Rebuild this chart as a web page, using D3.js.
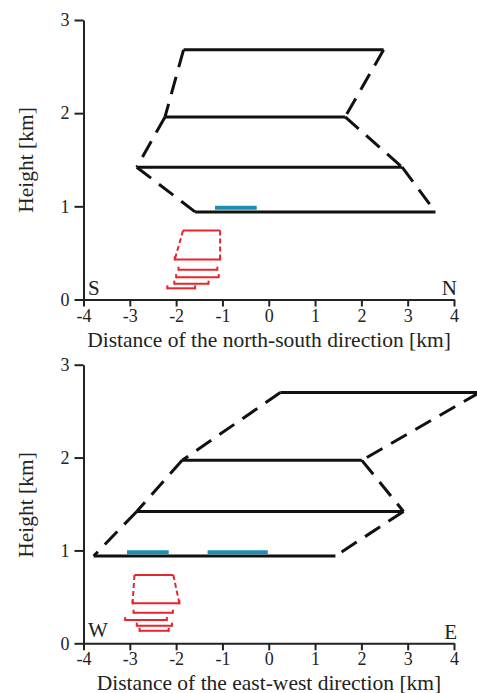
<!DOCTYPE html>
<html>
<head>
<meta charset="utf-8">
<script src="https://cdn.jsdelivr.net/npm/d3@7"></script>
<style>
  html, body { margin: 0; padding: 0; background: #fff; }
  svg { display: block; }
  text { font-family: "Liberation Serif", "Times New Roman", serif; fill: #222; }
</style>
</head>
<body>
<svg id="chart" width="477" height="693"></svg>
<script>
// ---------- Data ----------
const xTicks = [-4, -3, -2, -1, 0, 1, 2, 3, 4];
const yTicks = [0, 1, 2, 3];

// North-south panel: black outline levels
const nsHeights = [2.68, 1.96, 1.42, 0.94];
const nsLeft    = [-1.84, -2.24, -2.85, -1.59];
const nsRight   = [2.48, 1.65, 2.88, 3.60];
// cyan segments
const nsCyanHeight = [0.985];
const nsCyanStart  = [-1.16];
const nsCyanEnd    = [-0.26];
// red levels
const nsRedHeights = [0.74, 0.43, 0.32, 0.24, 0.17, 0.12];
const nsRedLeft    = [-1.85, -2.03, -1.95, -2.00, -2.04, -2.19];
const nsRedRight   = [-1.05, -1.05, -1.11, -1.08, -1.30, -1.59];

// East-west panel
const ewHeights = [2.70, 1.97, 1.42, 0.94];
const ewLeft    = [0.25, -1.87, -2.85, -3.78];
const ewRight   = [4.55, 2.01, 2.91, 1.44];
const ewCyanHeight = [0.98, 0.98];
const ewCyanStart  = [-3.06, -1.32];
const ewCyanEnd    = [-2.16, -0.02];
const ewRedHeights = [0.735, 0.43, 0.33, 0.25, 0.19, 0.135];
const ewRedLeft    = [-2.90, -2.94, -2.92, -3.10, -2.85, -2.79];
const ewRedRight   = [-2.06, -1.93, -2.07, -2.20, -2.09, -2.16];

const panels = [
  { top: 20, bottom: 299.5, heights: nsHeights, left: nsLeft, right: nsRight,
    cyanH: nsCyanHeight, cyanS: nsCyanStart, cyanE: nsCyanEnd,
    redH: nsRedHeights, redL: nsRedLeft, redR: nsRedRight,
    title: "Distance of the north-south direction [km]", titleY: 347,
    dirL: "S", dirR: "N", dirLY: 295, dirRY: 295, yLabelY: 160 },
  { top: 364.7, bottom: 643.3, heights: ewHeights, left: ewLeft, right: ewRight,
    cyanH: ewCyanHeight, cyanS: ewCyanStart, cyanE: ewCyanEnd,
    redH: ewRedHeights, redL: ewRedLeft, redR: ewRedRight,
    title: "Distance of the east-west direction [km]", titleY: 689.5,
    dirL: "W", dirR: "E", dirLY: 637, dirRY: 639, yLabelY: 505 }
];

const svg = d3.select("#chart");
const xLeft = 83.5, xRightPx = 454;

panels.forEach((p, pi) => {
  const x = d3.scaleLinear().domain([-4, 4]).range([xLeft, xRightPx]);
  const y = d3.scaleLinear().domain([0, 3]).range([p.bottom, p.top]);
  const g = svg.append("g");

  // axes
  const xAxis = d3.axisBottom(x).tickValues(xTicks).tickFormat(d => String(d))
    .tickSize(7).tickSizeOuter(0).tickPadding(pi === 1 ? 1.5 : 3);
  const yAxis = d3.axisLeft(y).tickValues(yTicks).tickFormat(d => String(d))
    .tickSize(9).tickSizeOuter(0).tickPadding(5);
  const gx = g.append("g").attr("transform", `translate(0,${p.bottom})`).call(xAxis);
  const gy = g.append("g").attr("transform", `translate(${xLeft},0)`).call(yAxis);
  [gx, gy].forEach(a => {
    a.selectAll("path, line").attr("stroke", "#222").attr("stroke-width", 2);
    a.selectAll("text").style("font-family", "'Liberation Serif', serif")
      .style("font-size", "18px").attr("fill", "#222");
  });

  // titles
  g.append("text").attr("x", 269).attr("y", p.titleY).attr("text-anchor", "middle")
    .style("font-size", "21.5px").text(p.title);
  g.append("text").attr("transform", `translate(33,${p.yLabelY}) rotate(-90)`)
    .attr("text-anchor", "middle").style("font-size", "21.5px").text("Height [km]");
  g.append("text").attr("x", 88).attr("y", p.dirLY).style("font-size", "21px").text(p.dirL);
  g.append("text").attr("x", 457).attr("y", p.dirRY).attr("text-anchor", "end")
    .style("font-size", "21px").text(p.dirR);

  // black outline: dashed edges between consecutive levels
  const line = d3.line().x(d => x(d[0])).y(d => y(d[1]));
  for (let i = 0; i < p.heights.length - 1; i++) {
    [p.left, p.right].forEach(arr => {
      g.append("path")
        .attr("d", line([[arr[i], p.heights[i]], [arr[i + 1], p.heights[i + 1]]]))
        .attr("fill", "none").attr("stroke", "#111").attr("stroke-width", 3)
        .attr("stroke-dasharray", "18,10");
    });
  }
  // solid horizontal levels
  p.heights.forEach((h, i) => {
    g.append("path").attr("d", line([[p.left[i], h], [p.right[i], h]]))
      .attr("fill", "none").attr("stroke", "#111").attr("stroke-width", 3);
  });

  // cyan segments
  p.cyanH.forEach((h, i) => {
    g.append("path").attr("d", line([[p.cyanS[i], h], [p.cyanE[i], h]]))
      .attr("stroke", "#1a8fb2").attr("stroke-width", 4);
  });

  // red shapes
  const red = "#e8242c";
  [p.redL, p.redR].forEach(arr => {
    g.append("path").attr("d", line([[arr[0], p.redH[0]], [arr[1], p.redH[1]]]))
      .attr("fill", "none").attr("stroke", red).attr("stroke-width", 2)
      .attr("stroke-dasharray", "5,3");
  });
  p.redH.forEach((h, i) => {
    g.append("path").attr("d", line([[p.redL[i], h], [p.redR[i], h]]))
      .attr("fill", "none").attr("stroke", red).attr("stroke-width", 2);
    if (i > 0) {
      [p.redL[i], p.redR[i]].forEach(v => {
        g.append("line").attr("x1", x(v)).attr("x2", x(v))
          .attr("y1", y(h) - 3).attr("y2", y(h) + 1)
          .attr("stroke", red).attr("stroke-width", 2);
      });
    }
  });
});
</script>
</body>
</html>
